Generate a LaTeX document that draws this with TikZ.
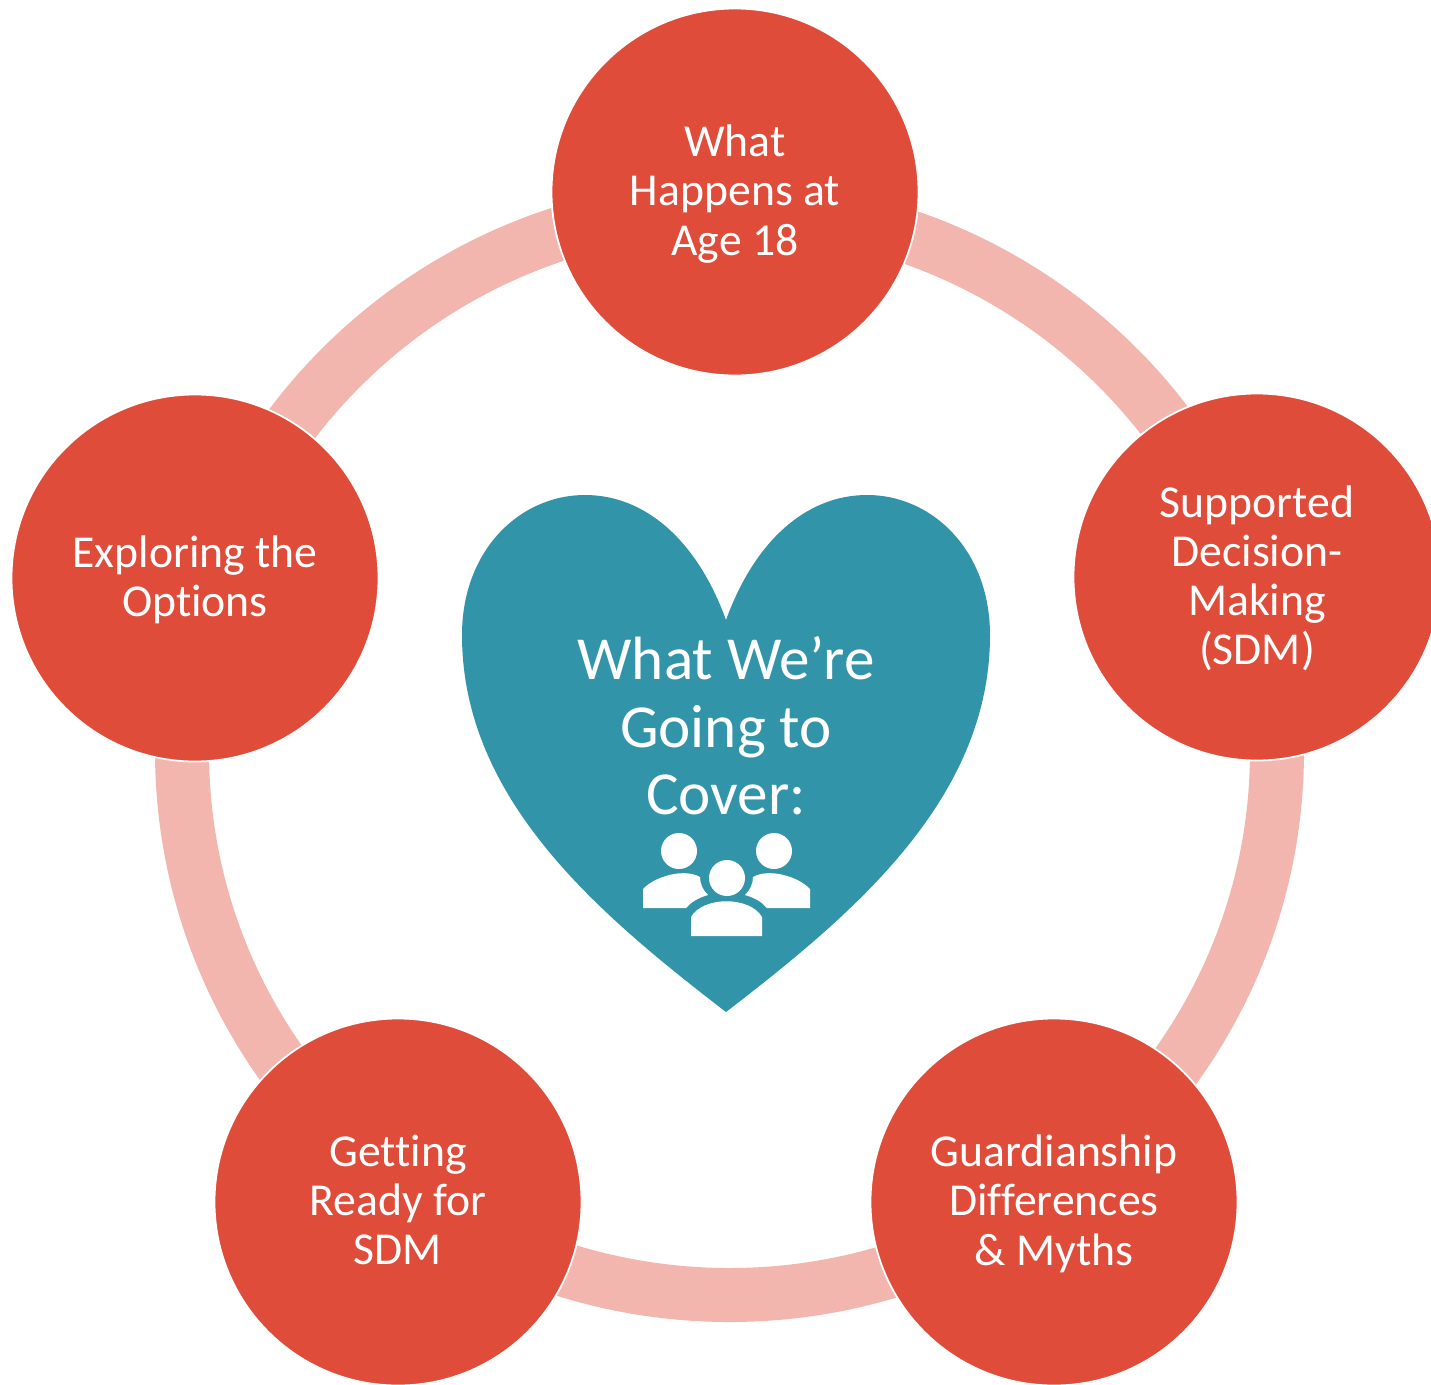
\documentclass[tikz,border=0pt]{standalone}
\usepackage{fontspec}
\setmainfont[Ligatures=NoCommon]{Carlito}
\definecolor{circlered}{HTML}{DF4C3A}
\definecolor{ringpink}{HTML}{F2B6AF}
\definecolor{heartteal}{HTML}{3294A9}
\newlength{\unitlen}
\setlength{\unitlen}{0.02cm}
\tikzset{
  topic/.style={circle,fill=circlered,draw=white,line width=1pt,minimum size=367\unitlen,inner sep=0pt,text=white,align=center,text depth=2.2pt,font=\fontsize{26}{28}\selectfont},
  person/.style={fill=white,draw=none},
}
\begin{document}
\begin{tikzpicture}[x=0.02cm,y=-0.02cm]
  \useasboundingbox (0,0) rectangle (1431,1384);
  \draw[ringpink,line width=54\unitlen] (729.5,751) ellipse (547.5 and 544);
  \node[topic] (top) at (735,192) {What\\Happens at\\Age 18};
  \node[topic] (right) at (1257,577) {Supported\\Decision-\\Making\\(SDM)};
  \node[topic] (lowright) at (1054,1202) {Guardianship\\Differences\\\& Myths};
  \node[topic] (lowleft) at (398,1202) {Getting\\Ready for\\SDM};
  \node[topic] (left) at (195,578) {Exploring the\\Options};
  % heart
  \fill[heartteal] (726,1012) .. controls (600,915) and (462,800) .. (462,635)
    .. controls (462,550) and (520,495) .. (585,495)
    .. controls (645,495) and (697,540) .. (726,620)
    .. controls (755,540) and (807,495) .. (867,495)
    .. controls (932,495) and (990,550) .. (990,635)
    .. controls (990,800) and (852,915) .. (726,1012) -- cycle;
  \node[text=white,align=center,font=\fontsize{34.8}{38.5}\selectfont] (title) at (726,726) {What We’re\\Going to\\Cover:};
  % people
  \fill[person] (679,851) circle (18);
  \fill[person] (774,851) circle (18);
  \fill[person] (643,908) -- (643,889) .. controls (655,876) and (685,868) .. (700,877)
    .. controls (700,884) and (703,890) .. (708,895) .. controls (698,898) and (691,902) .. (686,908) -- cycle;
  \fill[person] (810,908) -- (810,889) .. controls (798,876) and (768,868) .. (753,877)
    .. controls (753,884) and (750,890) .. (745,895) .. controls (755,898) and (762,902) .. (767,908) -- cycle;
  \fill[person] (727,878) circle (18);
  \fill[person] (691,936) -- (691,917) .. controls (703,896) and (750,896) .. (762,917) -- (762,936) -- cycle;
\end{tikzpicture}
\end{document}
